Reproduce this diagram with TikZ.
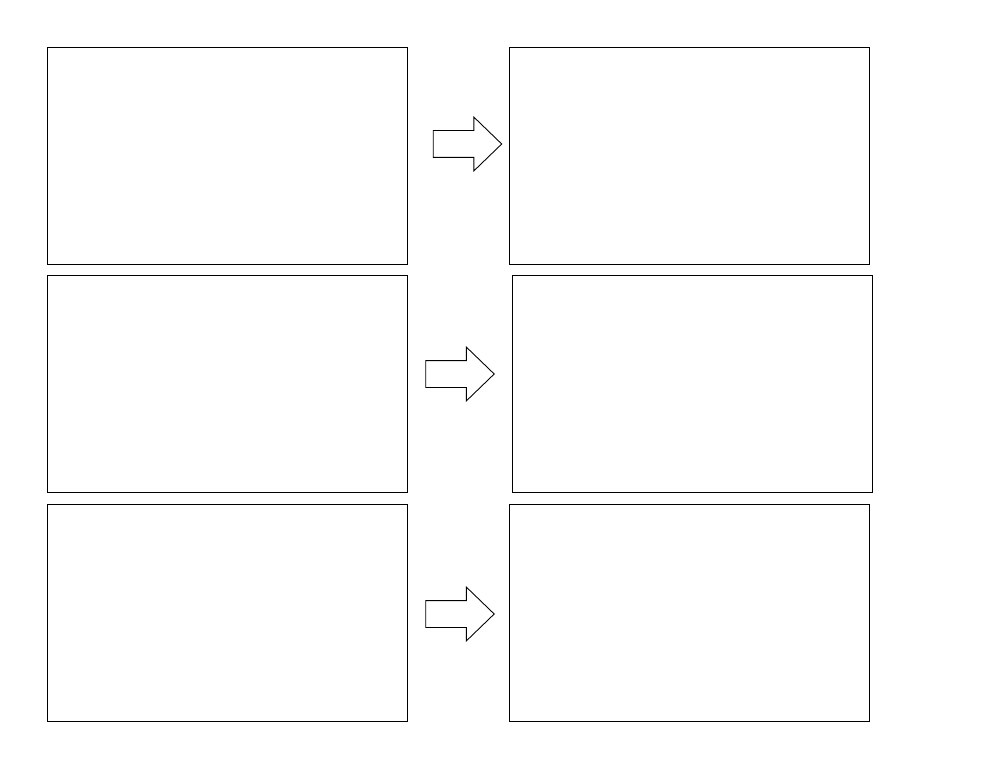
\documentclass[tikz,border=0pt]{standalone}
\usepackage{tikz}
\usetikzlibrary{positioning,shapes.arrows}
\tikzset{panel/.style={draw,line width=0.5pt,inner sep=0pt,outer sep=0pt,minimum width=72mm,minimum height=43.4mm},
  blockarrow/.style={draw,line width=0.5pt,single arrow,inner xsep=0pt,inner ysep=2.6mm,outer sep=0pt,minimum height=13.7mm,single arrow head extend=2.7mm,single arrow tip angle=88}}
\begin{document}
\begin{tikzpicture}[x=0.2mm,y=-0.2mm]
  \useasboundingbox[fill=white] (0,0) rectangle (1000,772);
  % left column
  \node[panel] (a1) at (227,155.5) {};
  \node[panel] (a2) at (227,384) {};
  \node[panel] (a3) at (227,613) {};
  % right column
  \node[panel,right=20.4mm of a1] (b1) {};
  \node[panel,right=21mm of a2] (b2) {};
  \node[panel,right=20.4mm of a3] (b3) {};

  \node[blockarrow] (r1) at (460.5,144) {};
  \node[blockarrow] (r2) at (453,374) {};
  \node[blockarrow] (r3) at (453,614) {};
\end{tikzpicture}
\end{document}
